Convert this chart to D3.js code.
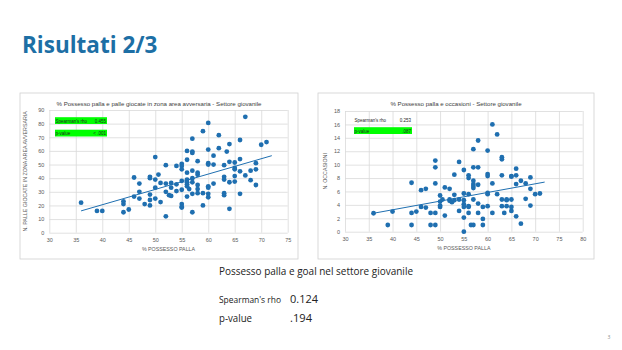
<!DOCTYPE html>
<html>
<head>
<meta charset="utf-8">
<script src="https://cdn.jsdelivr.net/npm/d3@7"></script>
<style>
  html, body { margin: 0; padding: 0; background: #fff; }
  svg { display: block; }
</style>
</head>
<body>
<svg id="slide" width="622" height="350"></svg>
<script>
// ---- Chart 1: possession vs balls played in the opponent's box ----
const possessoA = [36,39,40,44,44,44,45,46,46,47,47,47,48,49,49,49,49,49,50,50,50,50,50.6,51,51,52,52,52,52,52.6,53,53,53,54,54,54,55,55,55,55,55,55,55,55,56,56,56,56,56,56,56,56,56.4,57,57,57,57,57,57,57,57,58,58,58,58,58,58,59,59,59,60,60,60,60,60,60,60,60,61,61,61,62,62,63,63,63,63,63,63.5,64,64,64,64,65,65,65,65,65,66,66,66,66,67,67,68,68,69,69,69,70,71];
const palleArea   = [22,16,16,15,23,21,17,40.5,26.5,36,30,25,21,41,40,28,24,20,55.5,39,33,25,42.6,22.5,36.5,49.5,36,30,12,27.5,33,36.5,27,49,35.5,30.5,50.5,49,46.5,38,31.5,21,19,18.5,60,53.5,44,39,37,35.5,34,26.5,32,69,59.5,58.5,45.5,40,37,28.5,15,42.5,44,52.5,35,32,29,74.5,29,20,80.5,61,51,50,34,33,28.5,26,56.5,50,36,71.5,62,49.5,41,39,29,27.5,59.5,65,52,37,17.5,51.5,47.5,46.5,41.5,37.5,68,54,45,28.5,85,42,45.5,38.5,51,46.5,35,64.5,66.5];
const trendA = [[36, 16], [72, 56.5]];
const statsA = [["Spearman's rho", "0.455"], ["p-value", "< .001"]];

// ---- Chart 2: possession vs chances created ----
const possessoB = [36,39,40,44,44,44,45,46,46,47,47,48,48,49,49,49,49,49,50,50,50,50,50.5,51,51,52,52,52,52.5,53,53,53,54,54,54,55,55,55,55,55,55,55,56,56,56,56,56,56,56.5,57,57,57,57,57,57,57,57,58,58,58,58,58,59,59,59,60,60,60,60,60,60,61,61,61,62,62,63,63,63,63,63,63.5,64,64,64,65,65,65,65,65,66,66,66,66,67,67,68,68,69,69,69,70,71];
const occasioni = [2.75,1,3,7.3,2.8,1,3,6.2,3.7,6.4,3.6,2.8,1,10.6,9.6,7.2,2.8,1,5.4,3.9,3.7,4.5,4.8,2.4,6.6,6.4,4.8,4.6,4.4,5.5,4.7,8.5,10.4,4.8,3.1,9.2,5.7,4.7,4.1,3.7,2.1,0,8.4,8,5.6,3.8,3.7,2.8,1,4.8,12.3,9.6,7.6,7.1,6.8,6.5,1,2.8,13.6,9.6,7,4.2,1,3.7,1.9,8.6,12.1,8.3,5.8,5.6,3.8,2.8,16,7.2,5.6,14.5,11.1,10.8,8.4,4.8,3.8,2.8,4.7,4.8,3.8,3.1,8.3,8.2,4.8,3.7,2.3,9.4,8.4,7.1,1.2,7.6,7.2,4.9,3.9,8.1,6.4,5.6,5.7,9.4];
const trendB = [[36, 2.75], [72, 7.4]];
const statsB = [["Spearman's rho", "0.253"], ["p-value", ".087"]];

// ---- Summary text: possession vs goals ----
const summaryTitle = "Possesso palla e goal nel settore giovanile";
const statsC = [["Spearman's rho", "0.124"], ["p-value", ".194"]];

const svg = d3.select("#slide");
const dotColor = "#1f6fb0";
const gridColor = "#d9d9d9";
const tickColor = "#595959";
const chartFont = "'Liberation Sans', Arial, sans-serif";

// Slide heading
svg.append("text")
  .attr("x", 22).attr("y", 53)
  .attr("font-family", "'Open Sans', sans-serif")
  .attr("font-weight", 700)
  .attr("font-size", 22.5)
  .attr("fill", "#1d6fa5")
  .text("Risultati 2/3");

function scatter(cfg) {
  const g = svg.append("g");
  // chart frame
  g.append("rect")
    .attr("x", cfg.frame[0]).attr("y", cfg.frame[1])
    .attr("width", cfg.frame[2]).attr("height", cfg.frame[3])
    .attr("fill", "#fff").attr("stroke", "#d0d0d0").attr("stroke-width", 0.8);

  const x = d3.scaleLinear().domain(cfg.xDomain).range(cfg.xRange);
  const y = d3.scaleLinear().domain(cfg.yDomain).range(cfg.yRange);

  // gridlines
  g.append("g")
    .attr("transform", `translate(0,${cfg.yRange[0]})`)
    .call(d3.axisBottom(x).tickValues(cfg.xTicks).tickSize(-(cfg.yRange[0] - cfg.yRange[1])).tickFormat(""))
    .call(a => a.select(".domain").remove())
    .call(a => a.selectAll("line").attr("stroke", gridColor).attr("stroke-width", 0.8));
  g.append("g")
    .attr("transform", `translate(${cfg.xRange[0]},0)`)
    .call(d3.axisLeft(y).tickValues(cfg.yTicks).tickSize(-(cfg.xRange[1] - cfg.xRange[0])).tickFormat(""))
    .call(a => a.select(".domain").remove())
    .call(a => a.selectAll("line").attr("stroke", gridColor).attr("stroke-width", 0.8));

  // tick labels
  const xAx = g.append("g")
    .attr("transform", `translate(0,${cfg.yRange[0]})`)
    .call(d3.axisBottom(x).tickValues(cfg.xTicks).tickSize(0).tickPadding(5));
  xAx.select(".domain").remove();
  xAx.selectAll("text").attr("font-family", chartFont).attr("font-size", 5.5).attr("fill", tickColor);
  const yAx = g.append("g")
    .attr("transform", `translate(${cfg.xRange[0]},0)`)
    .call(d3.axisLeft(y).tickValues(cfg.yTicks).tickSize(0).tickPadding(5));
  yAx.select(".domain").remove();
  yAx.selectAll("text").attr("font-family", chartFont).attr("font-size", 5.5).attr("fill", tickColor);

  // title (centred on the frame) and axis titles
  g.append("text")
    .attr("x", cfg.frame[0] + cfg.frame[2] / 2).attr("y", cfg.frame[1] + 13)
    .attr("text-anchor", "middle")
    .attr("font-family", chartFont).attr("font-size", 6.1).attr("fill", "#404040")
    .text(cfg.title);
  g.append("text")
    .attr("x", (cfg.xRange[0] + cfg.xRange[1]) / 2).attr("y", cfg.yRange[0] + 18)
    .attr("text-anchor", "middle")
    .attr("font-family", chartFont).attr("font-size", 5.3).attr("fill", tickColor)
    .text("% POSSESSO PALLA");
  g.append("text")
    .attr("transform", `translate(${cfg.yTitleX},${(cfg.yRange[0] + cfg.yRange[1]) / 2}) rotate(-90)`)
    .attr("text-anchor", "middle")
    .attr("font-family", chartFont).attr("font-size", 5.3).attr("fill", tickColor)
    .text(cfg.yTitle);

  // points
  g.append("g").selectAll("circle")
    .data(cfg.xs.map((v, i) => [v, cfg.ys[i]]))
    .join("circle")
    .attr("cx", d => x(d[0])).attr("cy", d => y(d[1]))
    .attr("r", 2.4).attr("fill", dotColor);

  // linear trend
  g.append("path")
    .datum(cfg.trend)
    .attr("d", d3.line().x(d => x(d[0])).y(d => y(d[1])))
    .attr("stroke", dotColor).attr("stroke-width", 1).attr("fill", "none");

  // correlation boxes
  cfg.stats.forEach((s, i) => {
    const bx = cfg.statBox[0], by = cfg.statBox[1] + i * cfg.statGap;
    if (cfg.statHighlight[i]) {
      g.append("rect").attr("x", bx).attr("y", by - 5.3)
        .attr("width", cfg.statBox[2]).attr("height", 6.8).attr("fill", "#00ff00");
    }
    g.append("text").attr("x", bx + 0.5).attr("y", by)
      .attr("font-family", chartFont).attr("font-size", 4.5).attr("fill", "#262626")
      .text(s[0]);
    g.append("text").attr("x", bx + cfg.statBox[2] - 1).attr("y", by)
      .attr("text-anchor", "end")
      .attr("font-family", chartFont).attr("font-size", 4.5).attr("fill", "#262626")
      .text(s[1]);
  });
}

scatter({
  frame: [20, 93, 278, 166],
  xDomain: [30, 75], xRange: [49.3, 287.7],
  yDomain: [0, 90], yRange: [232.7, 110],
  xTicks: d3.range(30, 76, 5), yTicks: d3.range(0, 91, 10),
  xs: possessoA, ys: palleArea, trend: trendA,
  title: "% Possesso palla e palle giocate in zona area avversaria - Settore giovanile",
  yTitle: "N. PALLE GIOCATE  IN ZONA AREA AVVERSARIA", yTitleX: 27,
  stats: statsA, statBox: [55, 122.5, 52], statGap: 12.5, statHighlight: [true, true]
});

scatter({
  frame: [318, 93, 276, 166],
  xDomain: [30, 80], xRange: [345, 582.7],
  yDomain: [0, 18], yRange: [231.7, 111],
  xTicks: d3.range(30, 81, 5), yTicks: d3.range(0, 19, 2),
  xs: possessoB, ys: occasioni, trend: trendB,
  title: "% Possesso palla e occasioni - Settore giovanile",
  yTitle: "N. OCCASIONI", yTitleX: 327,
  stats: statsB, statBox: [354, 121.5, 58], statGap: 11, statHighlight: [false, true]
});

// Summary of the goals correlation, fitted to its text box widths
const bodyFont = "'Open Sans', sans-serif";
function bodyText(str, xPos, yPos, width, size) {
  svg.append("text")
    .attr("x", xPos).attr("y", yPos)
    .attr("font-family", bodyFont).attr("font-size", size).attr("fill", "#222")
    .attr("textLength", width).attr("lengthAdjust", "spacingAndGlyphs")
    .text(str);
}
bodyText(summaryTitle, 219, 275, 194, 10.5);
bodyText(statsC[0][0], 219, 302.5, 62, 9.4);
bodyText(statsC[0][1], 290, 302.5, 28, 10.5);
bodyText(statsC[1][0], 219, 321.5, 33, 10);
bodyText(statsC[1][1], 290, 321.5, 22, 10.5);

// slide number
svg.append("text")
  .attr("x", 609).attr("y", 339)
  .attr("text-anchor", "middle")
  .attr("font-family", bodyFont).attr("font-size", 5).attr("fill", "#888")
  .text("3");
</script>
</body>
</html>
